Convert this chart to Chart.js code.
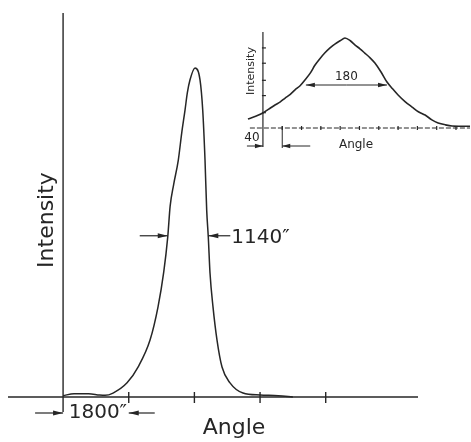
<!DOCTYPE html>
<html>
<head>
<meta charset="utf-8">
<script src="https://cdn.jsdelivr.net/npm/chart.js@4.4.1/dist/chart.umd.min.js"></script>
<style>
html, body { margin: 0; padding: 0; background: #fff; }
#wrap { position: relative; width: 471px; height: 442px; }
#mainChart { position: absolute; left: 0; top: 0; }
#insetChart { position: absolute; left: 230px; top: 20px; }
</style>
</head>
<body>
<div id="wrap">
    <canvas id="mainChart" width="471" height="442"></canvas>
    <canvas id="insetChart" width="241" height="135"></canvas>
</div>
<script>
// main curve: angle (arcsec) vs relative intensity
const mainAngle = [0, 300, 700, 1000, 1150, 1370, 1754, 2055, 2384, 2603, 2760, 2869, 2935, 3030, 3159,
    3252, 3343, 3406, 3480, 3617, 3754, 3828, 3891, 3937, 3981, 4028, 4110, 4220, 4357, 4576, 4932,
    5400, 5900, 6300];
const mainIntensity = [0.004, 0.010, 0.010, 0.006, 0.005, 0.012, 0.043, 0.091, 0.173, 0.274, 0.380, 0.486, 0.580, 0.645, 0.720,
    0.802, 0.872, 0.924, 0.964, 1.0, 0.964, 0.872, 0.720, 0.568, 0.486, 0.377, 0.274, 0.173, 0.091, 0.043, 0.012,
    0.006, 0.004, 0.0];
const mainTicks = [0, 1800, 3600, 5400, 7200];
const mainFwhm = [2869, 3981];
const mainFwhmLabel = '1140\u2033';
const mainStepLabel = '1800\u2033';

// inset curve
const insetAngle = [-31, -15, 0, 12, 25, 36, 46, 56, 66, 77, 87, 98, 108, 118, 128, 139, 149, 160, 170,
    181, 191, 201, 211, 222, 232, 245, 257, 268, 280, 295, 309, 322, 336, 350, 363, 378, 392, 410, 429];
const insetIntensity = [0.10, 0.13, 0.167, 0.21, 0.256, 0.29, 0.333, 0.37, 0.422, 0.47, 0.533, 0.61, 0.70, 0.77, 0.833, 0.89, 0.933, 0.97, 1.0,
    0.97, 0.922, 0.88, 0.833, 0.78, 0.722, 0.62, 0.511, 0.44, 0.367, 0.29, 0.233, 0.18, 0.144, 0.09, 0.056, 0.035, 0.022, 0.02, 0.02];
const insetXTicks = [0, 40, 80, 120, 160, 200, 240, 280, 320, 360, 400];
const insetYTicks = [0.17, 0.36, 0.53, 0.72, 0.89];
const insetFwhm = [89, 257];
const insetFwhmLabel = '180';
const insetStepLabel = '40';

const ink = '#262626';
const FONT = '"DejaVu Sans", "Liberation Sans", sans-serif';

function seg(ctx, x1, y1, x2, y2) {
    ctx.beginPath();
    ctx.moveTo(x1, y1);
    ctx.lineTo(x2, y2);
    ctx.stroke();
}

// line from x1 to x2, filled head at x2
function arrow(ctx, x1, y, x2, head, half) {
    seg(ctx, x1, y, x2, y);
    const d = Math.sign(x2 - x1);
    ctx.beginPath();
    ctx.moveTo(x2, y);
    ctx.lineTo(x2 - d * head, y - half);
    ctx.lineTo(x2 - d * head, y + half);
    ctx.closePath();
    ctx.fill();
}

const mainAxes = {
    id: 'mainAxes',
    beforeDatasetsDraw(chart) {
        const { ctx, scales: { x, y } } = chart;
        const x0 = x.getPixelForValue(0);
        const y0 = y.getPixelForValue(0);
        ctx.save();
        ctx.strokeStyle = ink;
        ctx.fillStyle = ink;
        ctx.lineWidth = 1.4;
        seg(ctx, x.left, y0, x.right, y0);
        seg(ctx, x0, y.top, x0, y0 + 15);
        mainTicks.slice(1).forEach(t => {
            const px = x.getPixelForValue(t);
            seg(ctx, px, y0 - 5, px, y0 + 6);
        });
        ctx.restore();
    },
    afterDraw(chart) {
        const { ctx, scales: { x, y } } = chart;
        const x0 = x.getPixelForValue(0);
        const y0 = y.getPixelForValue(0);
        ctx.save();
        ctx.strokeStyle = ink;
        ctx.fillStyle = ink;
        ctx.lineWidth = 1.2;

        // FWHM
        const yh = y.getPixelForValue(0.49);
        const l = x.getPixelForValue(mainFwhm[0]);
        const r = x.getPixelForValue(mainFwhm[1]);
        arrow(ctx, l - 28, yh, l, 10, 2.5);
        arrow(ctx, r + 22, yh, r, 10, 2.5);
        ctx.font = '20px ' + FONT;
        ctx.textBaseline = 'middle';
        ctx.textAlign = 'left';
        ctx.fillText(mainFwhmLabel, r + 23, yh + 2);

        // step marker
        const t1 = x.getPixelForValue(mainTicks[1]);
        const ys = y0 + 16;
        arrow(ctx, x0 - 28, ys, x0, 10, 2.5);
        arrow(ctx, t1 + 26, ys, t1, 10, 2.5);
        ctx.textAlign = 'center';
        ctx.fillText(mainStepLabel, (x0 + t1) / 2 + 2, ys);

        // axis titles
        ctx.font = '22px ' + FONT;
        ctx.fillText('Angle', 234, 428);
        ctx.translate(47, 220);
        ctx.rotate(-Math.PI / 2);
        ctx.fillText('Intensity', 0, 0);
        ctx.restore();
    }
};

const insetAxes = {
    id: 'insetAxes',
    beforeDatasetsDraw(chart) {
        const { ctx, scales: { x, y } } = chart;
        const x0 = x.getPixelForValue(0);
        const y0 = y.getPixelForValue(0);
        ctx.save();
        ctx.strokeStyle = ink;
        ctx.fillStyle = ink;
        ctx.lineWidth = 1;
        ctx.setLineDash([5, 2]);
        seg(ctx, x.getPixelForValue(-27), y0, x.right, y0);
        ctx.setLineDash([]);
        ctx.lineWidth = 1.2;
        seg(ctx, x0, y.top, x0, y0 + 19);
        insetXTicks.slice(1).forEach(t => {
            const px = x.getPixelForValue(t);
            seg(ctx, px, y0 - 2, px, y0 + 2);
        });
        insetYTicks.forEach(t => {
            const py = y.getPixelForValue(t);
            seg(ctx, x0 - 1, py, x0 + 3, py);
        });
        ctx.restore();
    },
    afterDraw(chart) {
        const { ctx, scales: { x, y } } = chart;
        const x0 = x.getPixelForValue(0);
        const y0 = y.getPixelForValue(0);
        ctx.save();
        ctx.strokeStyle = ink;
        ctx.fillStyle = ink;
        ctx.lineWidth = 1;

        // FWHM double arrow
        const yh = y.getPixelForValue(0.5) + 2;
        const l = x.getPixelForValue(insetFwhm[0]);
        const r = x.getPixelForValue(insetFwhm[1]);
        const m = (l + r) / 2;
        arrow(ctx, m, yh, l, 9, 2.2);
        arrow(ctx, m, yh, r, 9, 2.2);
        ctx.font = '12px ' + FONT;
        ctx.textAlign = 'center';
        ctx.textBaseline = 'middle';
        ctx.fillText(insetFwhmLabel, m, yh - 8);

        // step marker
        const t1 = x.getPixelForValue(insetXTicks[1]);
        const ys = y0 + 18;
        seg(ctx, t1, y0 - 2, t1, y0 + 20);
        arrow(ctx, x0 - 16, ys, x0, 8, 2.2);
        arrow(ctx, t1 + 28, ys, t1, 8, 2.2);
        ctx.font = '12px ' + FONT;
        ctx.fillText(insetStepLabel, x0 - 11, y0 + 10);

        // axis titles
        ctx.fillText('Angle', 126, 125);
        ctx.font = '11px ' + FONT;
        ctx.translate(21, 51);
        ctx.rotate(-Math.PI / 2);
        ctx.fillText('Intensity', 0, 0);
        ctx.restore();
    }
};

function toPoints(xs, ys) {
    return xs.map((v, i) => ({ x: v, y: ys[i] }));
}

new Chart(document.getElementById('mainChart'), {
    type: 'line',
    data: {
        datasets: [{
            data: toPoints(mainAngle, mainIntensity),
            borderColor: ink,
            borderWidth: 1.5,
            pointRadius: 0,
            cubicInterpolationMode: 'monotone',
            fill: false,
            clip: false
        }]
    },
    options: {
        responsive: false,
        animation: false,
        devicePixelRatio: 1,
        layout: { padding: { left: 8, right: 53, top: 13, bottom: 45 } },
        plugins: { legend: { display: false }, tooltip: { enabled: false } },
        scales: {
            x: { type: 'linear', display: false, min: -1510, max: 9730 },
            y: { type: 'linear', display: false, min: 0, max: 1.167 }
        }
    },
    plugins: [mainAxes]
});

new Chart(document.getElementById('insetChart'), {
    type: 'line',
    data: {
        datasets: [{
            data: toPoints(insetAngle, insetIntensity),
            borderColor: ink,
            borderWidth: 1.6,
            pointRadius: 0,
            tension: 0.3,
            fill: false,
            clip: false
        }]
    },
    options: {
        responsive: false,
        animation: false,
        devicePixelRatio: 1,
        layout: { padding: { left: 17, right: 1, top: 12, bottom: 27 } },
        plugins: { legend: { display: false }, tooltip: { enabled: false } },
        scales: {
            x: { type: 'linear', display: false, min: -33, max: 429 },
            y: { type: 'linear', display: false, min: 0, max: 1.067 }
        }
    },
    plugins: [insetAxes]
});
</script>
</body>
</html>
